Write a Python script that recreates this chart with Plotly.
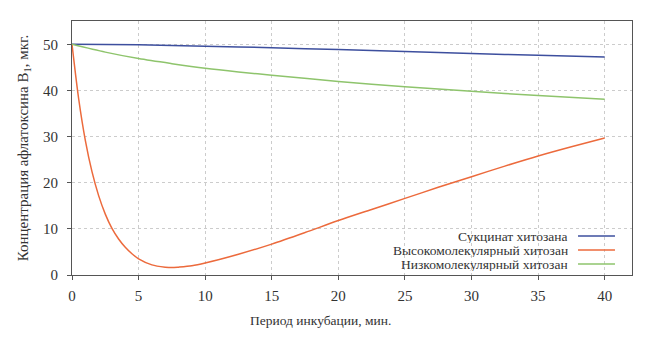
import plotly.graph_objects as go

series_names = ["Сукцинат хитозана", "Высокомолекулярный хитозан", "Низкомолекулярный хитозан"]
series_colors = ["#3d4f9e", "#ec6a3c", "#8ec46c"]

x_succ = [0, 5, 10, 15, 20, 25, 30, 35, 40]
y_succ = [50, 49.9, 49.6, 49.25, 48.85, 48.45, 48.0, 47.6, 47.25]

x_high = [0, 0.5, 1, 1.5, 2, 2.5, 3, 3.5, 4, 4.5, 5, 6, 7, 7.5, 8, 9, 10, 12.5, 15, 17.5, 20,
          22.5, 25, 27.5, 30, 32.5, 35, 37.5, 40]
y_high = [50, 38.2, 29.2, 22.4, 17.2, 13.2, 10.1, 7.8, 6.0, 4.6, 3.5, 2.2, 1.7, 1.6, 1.7, 2.0, 2.6,
          4.5, 6.7, 9.2, 11.8, 14.2, 16.6, 19.0, 21.3, 23.6, 25.8, 27.8, 29.7]

x_low = [0, 2.5, 5, 7.5, 10, 12.5, 15, 20, 25, 30, 35, 40]
y_low = [50, 48.3, 46.9, 45.8, 44.8, 44.0, 43.3, 41.95, 40.8, 39.8, 38.9, 38.1]

x_ticks = [0, 5, 10, 15, 20, 25, 30, 35, 40]
y_ticks = [0, 10, 20, 30, 40, 50]
x_title = "Период инкубации, мин."
y_title = "Концентрация афлатоксина B<sub>1</sub>, мкг."

FONT = "Liberation Serif, Times New Roman, serif"
TXT = "#333333"

fig = go.Figure()
for xs, ys, name, col in zip([x_succ, x_high, x_low], [y_succ, y_high, y_low], series_names, series_colors):
    fig.add_trace(go.Scatter(x=xs, y=ys, mode="lines", name=name,
                             line=dict(color=col, width=1.5, shape="spline", smoothing=0.8),
                             showlegend=False))

# custom legend: text right-aligned, line sample to the right
leg_y = [(275 - 236) / 254, (275 - 250) / 254, (275 - 264) / 254]
for name, col, ly in zip(series_names, series_colors, leg_y):
    fig.add_annotation(x=0.8875, y=ly, xref="paper", yref="paper", text=name,
                       showarrow=False, xanchor="right", yanchor="middle", borderpad=0,
                       height=13,
                       font=dict(family=FONT, size=13.5, color=TXT))
    fig.add_shape(type="line", xref="paper", yref="paper", x0=0.9036, x1=0.9696,
                  y0=ly, y1=ly, line=dict(color=col, width=1.5))

fig.add_annotation(x=(320 - 72) / 560, y=(275 - 320) / 254, xref="paper", yref="paper", text=x_title,
                   showarrow=False, xanchor="center", yanchor="middle",
                   font=dict(family=FONT, size=13.5, color=TXT))

fig.update_layout(
    width=649, height=342,
    margin=dict(l=72, r=17, t=21, b=67),
    paper_bgcolor="white", plot_bgcolor="white",
    font=dict(family=FONT, size=13, color=TXT),
)
fig.update_xaxes(range=[0, 42.05], tickvals=x_ticks, ticks="outside", ticklen=4,
                 tickcolor="#555", showline=True, linecolor="#555", linewidth=1, mirror=True,
                 showgrid=True, gridcolor="#cccccc", griddash="dot", gridwidth=1,
                 zeroline=False, ticklabelstandoff=3,
                 tickfont=dict(family=FONT, size=15, color=TXT))
fig.update_yaxes(range=[0, 55.05], tickvals=y_ticks, ticks="outside", ticklen=4,
                 tickcolor="#555", showline=True, linecolor="#555", linewidth=1, mirror=True,
                 showgrid=True, gridcolor="#cccccc", griddash="dot", gridwidth=1,
                 zeroline=False, ticklabelstandoff=6,
                 tickfont=dict(family=FONT, size=15, color=TXT),
                 title=dict(text=y_title, font=dict(family=FONT, size=15, color=TXT), standoff=10))

fig.write_html("out.html")
